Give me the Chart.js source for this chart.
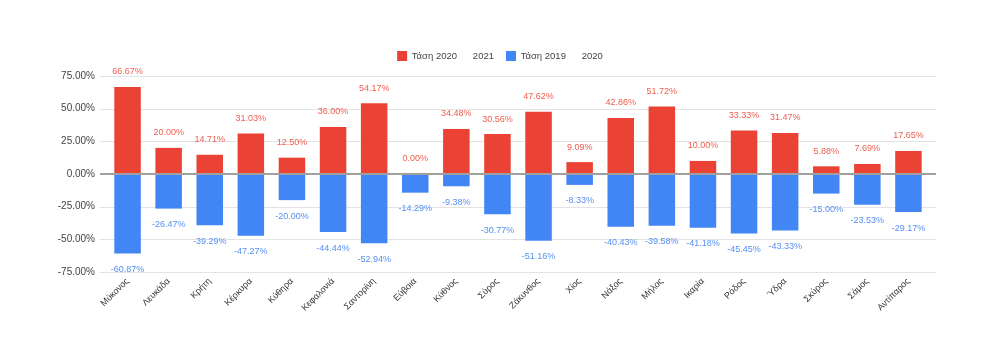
<!DOCTYPE html>
<html>
<head>
<meta charset="utf-8">
<script src="https://cdn.jsdelivr.net/npm/chart.js@4.4.1/dist/chart.umd.min.js"></script>
<style>
  html, body { margin: 0; padding: 0; background: #ffffff; }
  #wrap { width: 1000px; height: 357px; position: relative; }
</style>
</head>
<body>
<div id="wrap"><canvas id="c" width="1000" height="357"></canvas></div>
<script>
const categories = ['Μύκονος','Λευκάδα','Κρήτη','Κέρκυρα','Κύθηρα','Κεφαλονιά','Σαντορίνη','Εύβοια','Κύθνος','Σύρος','Ζάκυνθος','Χίος','Νάξος','Μήλος','Ικαρία','Ρόδος','Ύδρα','Σκύρος','Σάμος','Αντίπαρος'];
const trend2020_2021 = [66.67, 20.00, 14.71, 31.03, 12.50, 36.00, 54.17, 0.00, 34.48, 30.56, 47.62, 9.09, 42.86, 51.72, 10.00, 33.33, 31.47, 5.88, 7.69, 17.65];
const trend2019_2020 = [-60.87, -26.47, -39.29, -47.27, -20.00, -44.44, -52.94, -14.29, -9.38, -30.77, -51.16, -8.33, -40.43, -39.58, -41.18, -45.45, -43.33, -15.00, -23.53, -29.17];
const seriesNames = ['Τάση 2020      2021', 'Τάση 2019      2020'];
const yTicks = [-75, -50, -25, 0, 25, 50, 75];

const RED = '#ea4335';
const BLUE = '#4285f4';
const RED_TXT = '#ee5e50';
const BLUE_TXT = '#5690f2';
const FONT = '"Liberation Sans", Arial, sans-serif';

const fmt = v => v.toFixed(2) + '%';

const gridPlugin = {
  id: 'gridExt',
  beforeDatasetsDraw(chart) {
    const {ctx, chartArea} = chart;
    const y = chart.scales.y;
    ctx.save();
    y.ticks.forEach(t => {
      if (t.value === 0) return;
      const py = Math.round(y.getPixelForValue(t.value)) + 0.5;
      ctx.strokeStyle = '#e3e3e3';
      ctx.lineWidth = 1;
      ctx.beginPath();
      ctx.moveTo(chartArea.left - 7, py);
      ctx.lineTo(chartArea.right + 7, py);
      ctx.stroke();
    });
    ctx.restore();
  },
  afterDatasetsDraw(chart) {
    const {ctx, chartArea} = chart;
    const y = chart.scales.y;
    ctx.save();
    const py = y.getPixelForValue(0);
    ctx.strokeStyle = '#a0a0a0';
    ctx.lineWidth = 2;
    ctx.beginPath();
    ctx.moveTo(chartArea.left - 7, py);
    ctx.lineTo(chartArea.right + 7, py);
    ctx.stroke();

    ctx.font = '9px ' + FONT;
    ctx.textAlign = 'center';
    ctx.textBaseline = 'middle';
    chart.data.datasets.forEach((ds, di) => {
      const meta = chart.getDatasetMeta(di);
      meta.data.forEach((el, i) => {
        const v = ds.data[i];
        ctx.fillStyle = di === 0 ? RED_TXT : BLUE_TXT;
        const ty = v >= 0 && di === 0 ? el.y - 15 : el.y + 16;
        ctx.fillText(fmt(v), el.x, ty);
      });
    });
    ctx.restore();
  }
};

const legendSpace = {
  id: 'legendSpace',
  afterInit(chart) {
    const lg = chart.legend;
    if (!lg) return;
    const orig = lg.fit;
    lg.fit = function () { orig.call(this); this.height += 5; };
  }
};

new Chart(document.getElementById('c'), {
  type: 'bar',
  data: {
    labels: categories,
    datasets: [
      { label: seriesNames[0], data: trend2020_2021, backgroundColor: RED, borderWidth: 0, categoryPercentage: 1, barPercentage: 0.645 },
      { label: seriesNames[1], data: trend2019_2020, backgroundColor: BLUE, borderWidth: 0, categoryPercentage: 1, barPercentage: 0.645 }
    ]
  },
  options: {
    responsive: false,
    animation: false,
    devicePixelRatio: 1,
    layout: { padding: { top: 39, right: 0, left: 0, bottom: 0 } },
    plugins: {
      legend: {
        position: 'top',
        align: 'center',
        labels: {
          boxWidth: 10, boxHeight: 10, padding: 12,
          color: '#444',
          font: { family: FONT, size: 9.5 }
        }
      },
      tooltip: { enabled: false }
    },
    scales: {
      x: {
        stacked: true,
        grid: { display: false, drawTicks: false },
        border: { display: false },
        ticks: {
          autoSkip: false, maxRotation: 45, minRotation: 45, padding: 4,
          color: '#333', font: { family: FONT, size: 9 }
        },
        afterFit(scale) { scale.height = 85; }
      },
      y: {
        stacked: true,
        min: -75, max: 75,
        grid: { display: false, drawTicks: false },
        border: { display: false },
        afterBuildTicks(scale) { scale.ticks = yTicks.map(v => ({ value: v })); },
        ticks: {
          padding: 12,
          color: '#444',
          font: { family: FONT, size: 10 },
          callback: v => fmt(v)
        },
        afterFit(scale) { scale.width = 107; }
      },
      yRight: {
        position: 'right',
        min: -75, max: 75,
        grid: { display: false, drawTicks: false },
        border: { display: false },
        ticks: { display: false },
        afterFit(scale) { scale.width = 71; }
      }
    }
  },
  plugins: [gridPlugin, legendSpace]
});
</script>
</body>
</html>
